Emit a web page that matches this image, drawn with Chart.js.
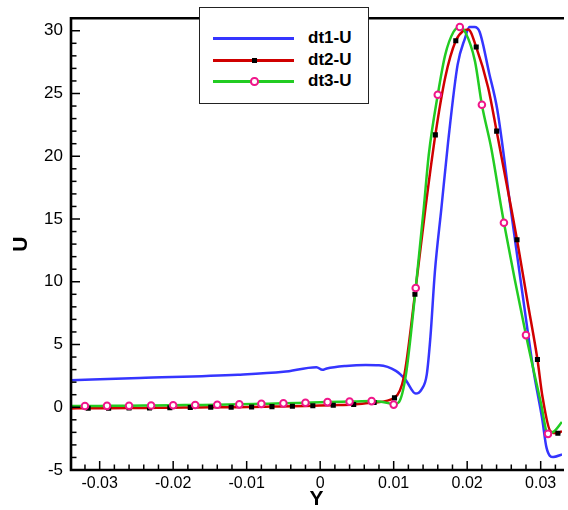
<!DOCTYPE html>
<html>
<head>
<meta charset="utf-8">
<script src="https://cdn.jsdelivr.net/npm/chart.js@4.4.1/dist/chart.umd.min.js"></script>
<style>
  html, body { margin: 0; padding: 0; background: #fff; }
  #wrap { position: relative; width: 568px; height: 510px; overflow: hidden; }
  #legend { position: absolute; left: 199px; top: 7px; width: 168px; height: 95px;
            border: 1px solid #222; background: #fff; box-sizing: content-box;
            font-family: "Liberation Sans", Arial, sans-serif; }
  .row { position: absolute; left: 0; width: 168px; height: 20px; }
  .ln { position: absolute; left: 13px; width: 81px; height: 2.5px; top: 9px; }
  .txt { position: absolute; left: 108px; top: 0; line-height: 20px; font-size: 17px; font-weight: bold; color: #000; white-space: nowrap; }
  .sq { position: absolute; left: 51.5px; top: 7.5px; width: 5px; height: 5px; background: #000; }
  .ci { position: absolute; left: 50px; top: 6px; width: 4.5px; height: 4.5px; border: 2px solid #f0168a; border-radius: 50%; background: #fff; }
</style>
</head>
<body>
<div id="wrap">
  <canvas id="c" width="568" height="510"></canvas>
  <div id="legend">
    <div class="row" style="top:20px"><div class="ln" style="background:#3535ff"></div><div class="txt">dt1-U</div></div>
    <div class="row" style="top:42px"><div class="ln" style="background:#d00000"></div><div class="sq"></div><div class="txt">dt2-U</div></div>
    <div class="row" style="top:63px"><div class="ln" style="background:#22cc22"></div><div class="ci"></div><div class="txt">dt3-U</div></div>
  </div>
</div>
<script>
// ---- data (Y position, U velocity) ----
const dt1Y = [-0.0339, -0.0246, -0.0112, -0.0050, -0.0005, 0.0003, 0.0009, 0.0035, 0.0062, 0.0080, 0.0103, 0.0116, 0.0130, 0.0138, 0.0145, 0.0150, 0.0156, 0.0165, 0.0174, 0.0187, 0.0197, 0.0203, 0.0210, 0.0217, 0.0230, 0.0241, 0.0259, 0.0273, 0.0290, 0.0302, 0.0308, 0.0317, 0.0329];
const dt1U = [2.15, 2.33, 2.59, 2.82, 3.19, 2.98, 3.09, 3.29, 3.37, 3.35, 2.90, 2.20, 1.09, 1.43, 2.60, 5.60, 10.75, 15.9, 21.1, 27.3, 29.4, 30.3, 30.3, 29.9, 26.6, 23.7, 15.9, 9.98, 3.0, -0.91, -3.24, -3.97, -3.76];

const dt2Y = [-0.0339, -0.03156, -0.02878, -0.02600, -0.02322, -0.02045, -0.01767, -0.01489, -0.01211, -0.00933, -0.00656, -0.00378, -0.00100, 0.00178, 0.00456, 0.00734, 0.01011, 0.01141, 0.01289, 0.01433, 0.01567, 0.01702, 0.01845, 0.01948, 0.02015, 0.02123, 0.02284, 0.02401, 0.02598, 0.02678, 0.02821, 0.02956, 0.03023, 0.03136, 0.03234, 0.03288];
const dt2U = [-0.09, -0.08, -0.07, -0.06, -0.05, -0.04, -0.02, 0.00, 0.00, 0.02, 0.05, 0.08, 0.12, 0.16, 0.22, 0.38, 0.75, 2.46, 9.0, 15.9, 21.7, 26.3, 29.2, 30.0, 30.1, 28.7, 25.5, 22.0, 15.9, 13.35, 8.4, 3.8, 0.9, -1.94, -2.07, -1.9];
const dt2MarkY = [-0.03156, -0.02878, -0.02600, -0.02322, -0.02045, -0.01767, -0.01489, -0.01211, -0.00933, -0.00656, -0.00378, -0.00100, 0.00178, 0.00456, 0.00734, 0.01011, 0.01289, 0.01567, 0.01845, 0.02123, 0.02401, 0.02678, 0.02956, 0.03234];
const dt2MarkU = [-0.08, -0.07, -0.06, -0.05, -0.04, -0.02, 0.00, 0.00, 0.02, 0.05, 0.08, 0.12, 0.16, 0.22, 0.38, 0.75, 9.0, 21.7, 29.2, 28.7, 22.0, 13.35, 3.8, -2.07];

const dt3Y = [-0.0339, -0.032, -0.029, -0.026, -0.023, -0.020, -0.017, -0.014, -0.011, -0.008, -0.005, -0.002, 0.001, 0.004, 0.007, 0.0094, 0.0100, 0.0107, 0.01164, 0.0130, 0.0141, 0.01477, 0.0160, 0.01702, 0.01813, 0.0190, 0.01973, 0.02105, 0.0220, 0.02329, 0.02464, 0.0250, 0.0280, 0.03001, 0.0310, 0.0318, 0.03288];
const dt3U = [0.09, 0.10, 0.11, 0.12, 0.14, 0.16, 0.18, 0.20, 0.23, 0.27, 0.31, 0.36, 0.41, 0.45, 0.49, 0.31, 0.21, 0.39, 2.5, 9.5, 15.9, 20.1, 24.9, 28.1, 29.9, 30.3, 29.9, 27.6, 24.1, 20.6, 15.9, 14.7, 5.75, 0.39, -2.12, -1.94, -1.17];
const dt3MarkY = [-0.032, -0.029, -0.026, -0.023, -0.020, -0.017, -0.014, -0.011, -0.008, -0.005, -0.002, 0.001, 0.004, 0.007, 0.010, 0.013, 0.016, 0.019, 0.022, 0.025, 0.028, 0.031];
const dt3MarkU = [0.10, 0.11, 0.12, 0.14, 0.16, 0.18, 0.20, 0.23, 0.27, 0.31, 0.36, 0.41, 0.45, 0.49, 0.21, 9.5, 24.9, 30.3, 24.1, 14.7, 5.75, -2.12];

const xTickValues = [-0.03, -0.02, -0.01, 0, 0.01, 0.02, 0.03];
const xTickLabels = ["-0.03", "-0.02", "-0.01", "0", "0.01", "0.02", "0.03"];
const yTickValues = [-5, 0, 5, 10, 15, 20, 25, 30];
const yTickLabels = ["-5", "0", "5", "10", "15", "20", "25", "30"];

const pts = (xs, ys) => xs.map((v, i) => ({ x: v, y: ys[i] }));

const FONT = '"Liberation Sans", Arial, sans-serif';

const framePlugin = {
  id: 'frame',
  afterDatasetsDraw(chart) {
    const { ctx, chartArea: a, scales: { x, y } } = chart;
    ctx.save();
    ctx.strokeStyle = '#000';
    ctx.lineWidth = 1.5;
    // y ticks (inward)
    for (let k = -5; k <= 31; k++) {
      const py = y.getPixelForValue(k);
      if (py < a.top + 1 || py > a.bottom) continue;
      const len = (k % 5 === 0) ? 9 : 5.5;
      ctx.beginPath(); ctx.moveTo(a.left, py); ctx.lineTo(a.left + len, py); ctx.stroke();
    }
    // x ticks (inward)
    for (let k = -17; k <= 17; k++) {
      const v = k * 0.002;
      const px = x.getPixelForValue(v);
      if (px < a.left + 1 || px > a.right) continue;
      const len = (k % 5 === 0) ? 9 : 5.5;
      ctx.beginPath(); ctx.moveTo(px, a.bottom); ctx.lineTo(px, a.bottom - len); ctx.stroke();
    }
    // frame
    ctx.lineWidth = 2.6;
    ctx.beginPath();
    ctx.moveTo(a.right + 2, a.top);
    ctx.lineTo(a.left, a.top);
    ctx.lineTo(a.left, a.bottom);
    ctx.lineTo(a.right + 2, a.bottom);
    ctx.stroke();
    ctx.restore();
  }
};

const lineDs = (label, data, color, order) => ({
  label, data, borderColor: color, backgroundColor: color, borderWidth: 2.5,
  pointRadius: 0, cubicInterpolationMode: 'monotone', fill: false, order
});

new Chart(document.getElementById('c'), {
  type: 'line',
  data: {
    datasets: [
      lineDs('dt1-U', pts(dt1Y, dt1U), '#3535ff', 5),
      lineDs('dt2-U', pts(dt2Y, dt2U), '#d00000', 4),
      lineDs('dt3-U', pts(dt3Y, dt3U), '#22cc22', 3),
      { label: 'dt2-U markers', data: pts(dt2MarkY, dt2MarkU), showLine: false,
        pointStyle: 'rect', pointRadius: 3.6, pointBorderWidth: 0,
        pointBackgroundColor: '#000', borderColor: '#000', order: 2 },
      { label: 'dt3-U markers', data: pts(dt3MarkY, dt3MarkU), showLine: false,
        pointStyle: 'circle', pointRadius: 3.3, pointBorderWidth: 2,
        pointBackgroundColor: '#fff', pointBorderColor: '#f0168a', order: 1 }
    ]
  },
  options: {
    responsive: false,
    animation: false,
    devicePixelRatio: 1,
    layout: { padding: { top: 5, right: 0, left: 0, bottom: 0 } },
    plugins: { legend: { display: false }, tooltip: { enabled: false } },
    scales: {
      x: {
        type: 'linear', min: -0.0339, max: 0.0329,
        grid: { display: false, drawTicks: false },
        border: { display: false },
        afterBuildTicks: s => { s.ticks = xTickValues.map(v => ({ value: v })); },
        afterFit: s => { s.height = 40; },
        ticks: { padding: 4, color: '#000', maxRotation: 0, autoSkip: false,
                 font: { family: FONT, size: 16 },
                 callback: (v, i) => xTickLabels[i] },
        title: { display: true, text: 'Y', color: '#000', padding: { top: 0, bottom: 0 },
                 font: { family: FONT, size: 21, weight: 'bold', lineHeight: 1 } }
      },
      y: {
        type: 'linear', min: -5, max: 31,
        grid: { display: false, drawTicks: false },
        border: { display: false },
        afterBuildTicks: s => { s.ticks = yTickValues.map(v => ({ value: v })); },
        afterFit: s => { s.width = 71; },
        ticks: { padding: 8, color: '#000', autoSkip: false,
                 font: { family: FONT, size: 17 },
                 callback: (v, i) => yTickLabels[i] },
        title: { display: true, text: 'U', color: '#000', padding: { top: 11, bottom: 0 },
                 font: { family: FONT, size: 21, weight: 'bold', lineHeight: 1 } }
      }
    }
  },
  plugins: [framePlugin]
});
</script>
</body>
</html>
